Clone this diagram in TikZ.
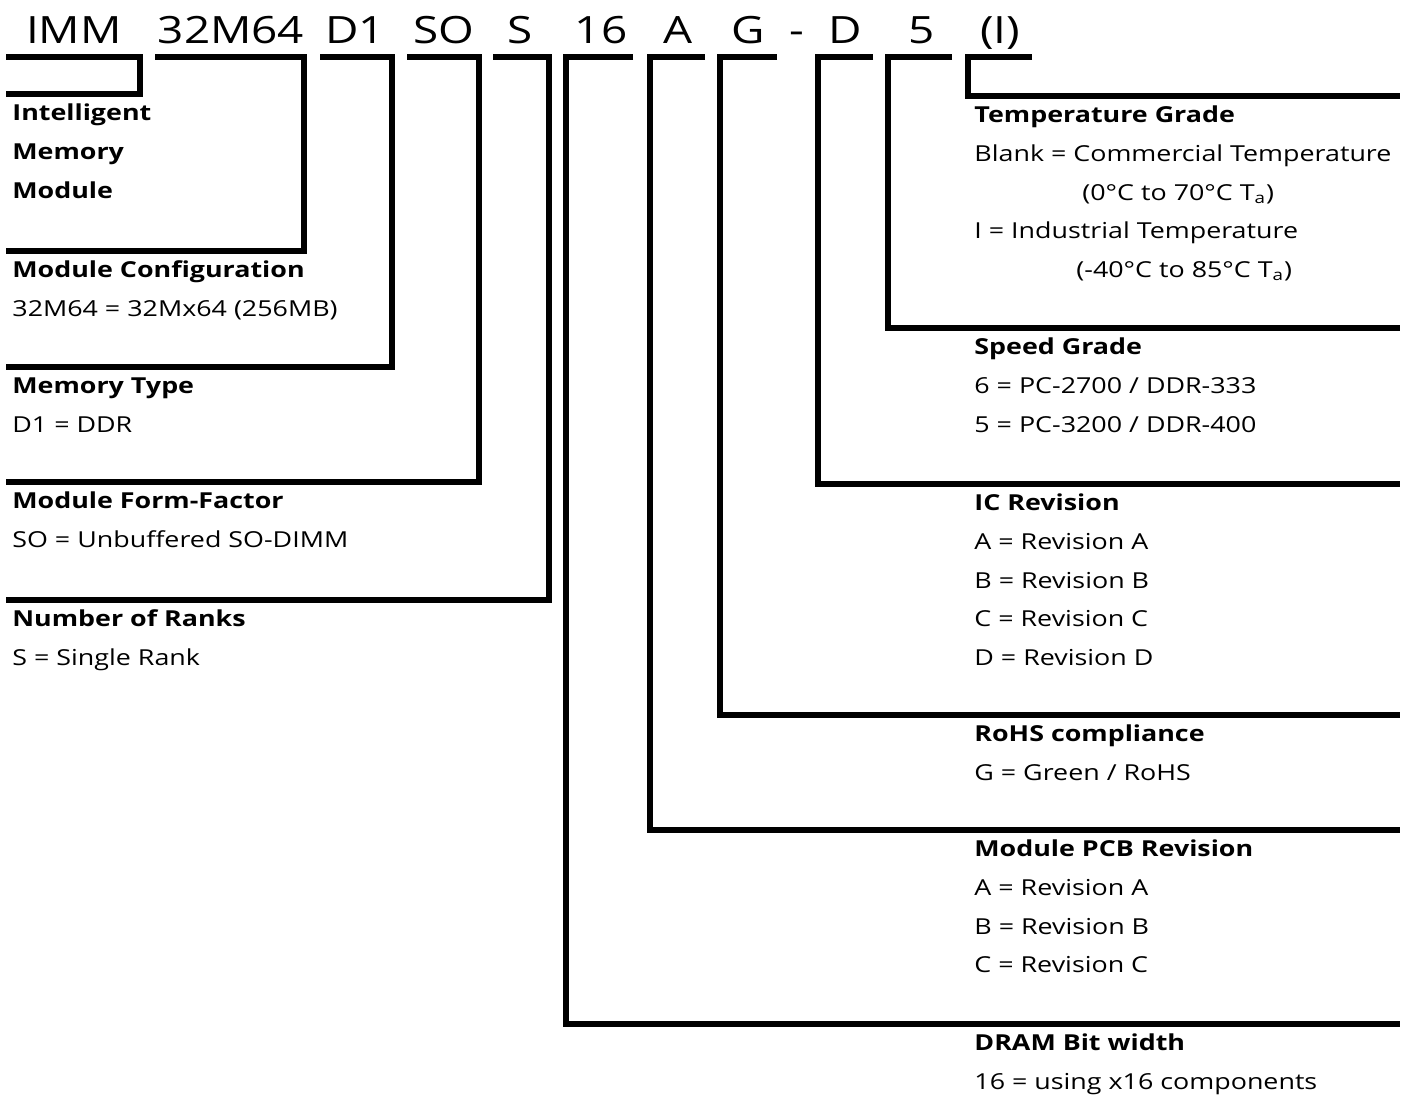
\documentclass[tikz,border=0pt]{standalone}
\usepackage{fontspec}
\setmainfont{Open Sans}[FakeStretch=1.22]
\newcommand\hd[1]{\rule{0pt}{13.25pt}\textbf{#1}}
\begin{document}
\begin{tikzpicture}[x=0.5pt,y=-0.5pt]

      \useasboundingbox (0,0) rectangle (1416,1098);

      % part number
      \begin{scope}[every node/.style={anchor=base, inner sep=0pt, font=\fontsize{18.8}{20}\selectfont}]
        \node (imm)  at (74,43)   {IMM};
        \node (cfg)  at (231,43)  {32M64};
        \node (typ)  at (355,43)  {D1};
        \node (ff)   at (444,43)  {SO};
        \node (rank) at (520,43)  {S};
        \node (bits) at (601,43)  {16};
        \node (pcb)  at (678,43)  {A};
        \node (rohs) at (748,43)  {G};
        \node (dash) at (797,43)  {-};
        \node (icr)  at (845,43)  {D};
        \node (spd)  at (922,43)  {5};
        \node (tmp)  at (1000,43) {(I)};
      \end{scope}

      % descriptions
      \begin{scope}[every node/.style={anchor=north west, align=left, inner xsep=3pt, inner ysep=0pt, font=\fontsize{11}{19.3}\selectfont}]
        \node (imm-l)  at (6,94)    {\hd{Intelligent}\\\textbf{Memory}\\\textbf{Module}};
        \node (cfg-l)  at (6,251)   {\hd{Module Configuration}\\32M64 = 32Mx64 (256MB)};
        \node (typ-l)  at (6,367)   {\hd{Memory Type}\\D1 = DDR};
        \node (ff-l)   at (6,482)   {\hd{Module Form-Factor}\\SO = Unbuffered SO-DIMM};
        \node (rank-l) at (6,600)   {\hd{Number of Ranks}\\S = Single Rank};
        \node (tmp-l)  at (968,96)  {\hd{Temperature Grade}\\Blank = Commercial Temperature\\\hspace*{54pt}(0°C to 70°C T\textsubscript{a})\\I = Industrial Temperature\\\hspace*{51pt}(-40°C to 85°C T\textsubscript{a})};
        \node (spd-l)  at (968,328) {\hd{Speed Grade}\\6 = PC-2700 / DDR-333\\5 = PC-3200 / DDR-400};
        \node (icr-l)  at (968,484) {\hd{IC Revision}\\A = Revision A\\B = Revision B\\C = Revision C\\D = Revision D};
        \node (rohs-l) at (968,715) {\hd{RoHS compliance}\\G = Green / RoHS};
        \node (pcb-l)  at (968,830) {\hd{Module PCB Revision}\\A = Revision A\\B = Revision B\\C = Revision C};
        \node (bits-l) at (968,1024) {\hd{DRAM Bit width}\\16 = using x16 components};
      \end{scope}

      % brackets
      \begin{scope}[every path/.style={line width=3pt}]
        \draw (6,57)    -- (140,57) |- (imm-l.north west);
        \draw (155,57)  -- (304,57) |- (cfg-l.north west);
        \draw (320,57)  -- (392,57) |- (typ-l.north west);
        \draw (407,57)  -- (479,57) |- (ff-l.north west);
        \draw (493,57)  -- (549,57) |- (rank-l.north west);
        \draw (633,57)  -- (566,57) |- (bits-l.north west) -- ++(432,0);
        \draw (705,57)  -- (650,57) |- (pcb-l.north west) -- ++(432,0);
        \draw (777,57)  -- (720,57) |- (rohs-l.north west) -- ++(432,0);
        \draw (873,57)  -- (818,57) |- (icr-l.north west) -- ++(432,0);
        \draw (952,57)  -- (888,57) |- (spd-l.north west) -- ++(432,0);
        \draw (1032,57) -- (968,57) |- (tmp-l.north west) -- ++(432,0);
      \end{scope}

    \end{tikzpicture}
\end{document}
